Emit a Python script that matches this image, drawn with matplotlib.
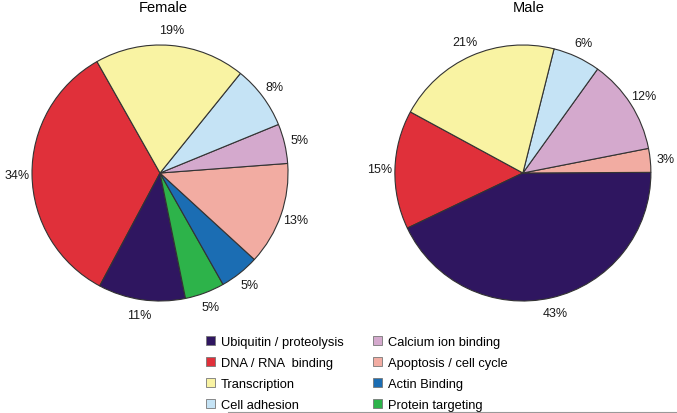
import matplotlib
matplotlib.use("Agg")
import matplotlib.pyplot as plt
from matplotlib.patches import Patch
from matplotlib.lines import Line2D

plt.rcParams['font.family'] = ['Liberation Sans', 'DejaVu Sans']

# categories in drawing order (counterclockwise)
categories = ['DNA / RNA  binding', 'Ubiquitin / proteolysis', 'Protein targeting',
              'Actin Binding', 'Apoptosis / cell cycle', 'Calcium ion binding',
              'Cell adhesion', 'Transcription']
colors = ['#e0303a', '#2f1660', '#2db34a', '#1b6db3', '#f2aca2', '#d4a9cd',
          '#c5e3f5', '#f9f3a3']

female = [34, 11, 5, 5, 13, 5, 8, 19]
male = [15, 43, 0, 0, 3, 12, 6, 21]

legend_order = ['Ubiquitin / proteolysis', 'DNA / RNA  binding', 'Transcription',
                'Cell adhesion', 'Calcium ion binding', 'Apoptosis / cell cycle',
                'Actin Binding', 'Protein targeting']

fig = plt.figure(figsize=(6.77, 4.14), dpi=100)


def draw_pie(rect, values, start, title, title_x):
    ax = fig.add_axes(rect)
    vals = [v for v in values if v > 0]
    cols = [c for v, c in zip(values, colors) if v > 0]
    ax.pie(vals, colors=cols, startangle=start, counterclock=True,
           autopct='%.0f%%', pctdistance=1.12,
           wedgeprops=dict(edgecolor='#333333', linewidth=0.8),
           textprops=dict(fontsize=9, color='#1a1a1a'))
    ax.set_xlim(-1.25, 1.25)
    ax.set_ylim(-1.25, 1.25)
    ax.set_aspect('equal')
    fig.text(title_x, 1 - 8 / 414, title, ha='center', va='center', fontsize=10.5)
    return ax


draw_pie([0.0, 0.1932, 0.4727, 0.773], female, 119.5, 'Female', 163 / 677)
draw_pie([0.536, 0.1932, 0.4727, 0.773], male, 151.5, 'Male', 529 / 677)

color_of = dict(zip(categories, colors))
handles = [Patch(facecolor=color_of[c], edgecolor='#777777', linewidth=0.6, label=c)
           for c in legend_order]
fig.legend(handles=handles, ncol=2, loc='upper left',
           bbox_to_anchor=(206 / 677, 1 - 337 / 414), frameon=False,
           fontsize=9.3, handlelength=0.7, handleheight=0.7, handletextpad=0.45,
           labelspacing=0.7, columnspacing=2.3, borderpad=0, borderaxespad=0)

fig.add_artist(Line2D([228 / 677, 1], [1 / 414, 1 / 414], color='#999999',
                      linewidth=0.8))

fig.savefig('out.png', dpi=100)
